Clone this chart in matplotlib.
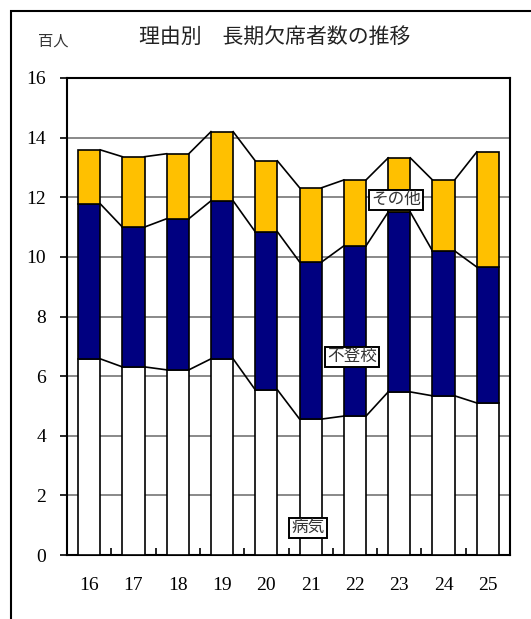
import numpy as np
import matplotlib.pyplot as plt
from matplotlib.patches import Rectangle

plt.rcParams['font.family'] = ['Liberation Serif', 'Noto Sans CJK JP']

years = ["16", "17", "18", "19", "20", "21", "22", "23", "24", "25"]
byoki = [6.58, 6.31, 6.21, 6.58, 5.54, 4.56, 4.66, 5.47, 5.34, 5.10]
futoko = [5.20, 4.69, 5.07, 5.30, 5.30, 5.27, 5.71, 6.03, 4.86, 4.56]
sonota = [1.81, 2.36, 2.18, 2.32, 2.38, 2.49, 2.21, 1.82, 2.38, 3.86]

x = np.arange(len(years))
w = 0.5
byoki = np.array(byoki)
futoko = np.array(futoko)
sonota = np.array(sonota)

fig = plt.figure(figsize=(5.31, 6.19), dpi=100)
ax = fig.add_axes([67 / 531, 64 / 619, 443 / 531, 477 / 619])

ax.yaxis.grid(True, color="#808080", linewidth=1.3)
ax.set_axisbelow(True)

kw = dict(width=w, edgecolor="black", linewidth=1.2, zorder=3)
ax.bar(x, byoki, color="white", **kw)
ax.bar(x, futoko, bottom=byoki, color="#000080", **kw)
ax.bar(x, sonota, bottom=byoki + futoko, color="#FFC000", **kw)

# series lines between bars
for level in [byoki, byoki + futoko, byoki + futoko + sonota]:
    for i in range(len(x) - 1):
        ax.plot([x[i] + w / 2, x[i + 1] - w / 2], [level[i], level[i + 1]],
                color="black", linewidth=1.2, zorder=2)

ax.set_xlim(-0.5, 9.5)
ax.set_ylim(0, 16)
ax.set_yticks(np.arange(0, 17, 2))
ax.set_xticks(x)
ax.set_xticklabels(years)
ax.set_xticks(np.arange(0.5, 9.5, 1), minor=True)
ax.tick_params(axis="x", which="major", length=0, pad=16, labelsize=14)
ax.tick_params(axis="x", which="minor", direction="in", length=5, width=1.2)
ax.tick_params(axis="y", direction="out", length=5, width=1.2, pad=10, labelsize=14)
for s in ax.spines.values():
    s.set_linewidth(1.5)

box = dict(boxstyle="square,pad=0.12", facecolor="white", edgecolor="black", linewidth=1.4)
ax.text(6.93, 11.9, "その他", fontsize=12, color="#333333", ha="center", va="center", bbox=box, zorder=5)
ax.text(5.93, 6.64, "不登校", fontsize=12, color="#333333", ha="center", va="center", bbox=box, zorder=5)
ax.text(4.94, 0.9, "病気", fontsize=12, color="#333333", ha="center", va="center", bbox=box, zorder=5)

fig.text(275 / 531, 1 - 38 / 619, "理由別\u3000長期欠席者数の推移", fontsize=15,
         ha="center", va="center", color="#222222")
fig.text(53 / 531, 1 - 42 / 619, "百人", fontsize=11, ha="center", va="center", color="#333333")

fig.patches.append(Rectangle((11 / 531, -0.1), 1.2, 1 - 11 / 619 + 0.1,
                             transform=fig.transFigure, fill=False,
                             edgecolor="black", linewidth=1.5))

fig.savefig("out.png", dpi=100)
